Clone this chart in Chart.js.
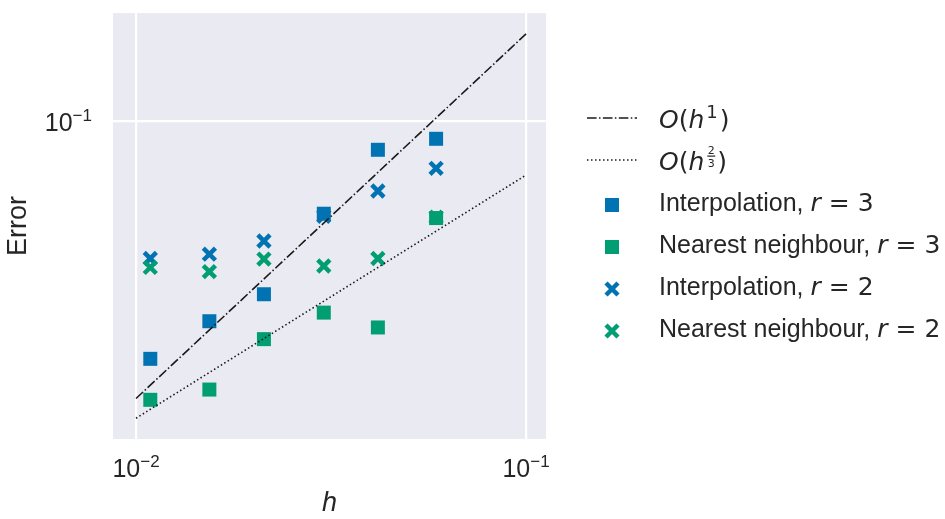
<!DOCTYPE html>
<html>
<head>
<meta charset="utf-8">
<script src="https://cdn.jsdelivr.net/npm/chart.js@4.4.1/dist/chart.umd.min.js"></script>
<style>
  html, body { margin: 0; padding: 0; background: #ffffff; }
  #wrap { width: 945px; height: 519px; }
</style>
</head>
<body>
<div id="wrap"><canvas id="c" width="945" height="519"></canvas></div>
<script>
// ---- data ----
const hValues   = [0.01088, 0.01542, 0.02128, 0.0303, 0.0417, 0.0588];
const interpR3  = [0.02228, 0.02825, 0.0335, 0.0557, 0.0834, 0.0894];
const nearestR3 = [0.01720, 0.01835, 0.02523, 0.02983, 0.02716, 0.0542];
const interpR2  = [0.04199, 0.04315, 0.0469, 0.0548, 0.0643, 0.0742];
const nearestR2 = [0.03969, 0.03864, 0.04182, 0.04003, 0.04199, 0.0545];
const refH      = [0.01, 0.1];
const refOrder1 = [0.01734, 0.1734];
const refOrder23 = [0.01531, 0.0711];
const xTicks = [0.01, 0.1];
const yTicks = [0.1];
const xTickExp = ['\u22122', '\u22121'];
const yTickExp = ['\u22121'];
const legendLabels = ['Interpolation, ', 'Nearest neighbour, ', 'Interpolation, ', 'Nearest neighbour, '];
const legendR = ['3', '3', '2', '2'];

const BLUE = '#0173B2';
const GREEN = '#029E73';
const INK = '#262626';
const LINE = '#1a1a1a';
const SANS = '"Liberation Sans", Arial, sans-serif';
const MATH = '"DejaVu Sans", sans-serif';

const pts = (xs, ys) => xs.map((x, i) => ({ x: x, y: ys[i] }));

function drawRuns(ctx, x, y, runs, align) {
  let total = 0;
  runs.forEach(r => { ctx.font = r.font; r.w = ctx.measureText(r.text).width; total += r.w + (r.gap || 0); });
  let cx = align === 'center' ? x - total / 2 : (align === 'right' ? x - total : x);
  runs.forEach(r => {
    ctx.font = r.font;
    ctx.fillText(r.text, cx, y - (r.dy || 0));
    cx += r.w + (r.gap || 0);
  });
  return cx;
}

const decor = {
  id: 'decor',
  beforeDraw(chart) {
    const { ctx, chartArea: a } = chart;
    ctx.save();
    ctx.fillStyle = '#EAEAF2';
    ctx.fillRect(a.left, a.top, a.right - a.left, a.bottom - a.top);
    ctx.restore();
  },
  afterDraw(chart) {
    const { ctx, chartArea: a } = chart;
    const xs = chart.scales.x, ys = chart.scales.y;
    ctx.save();
    ctx.fillStyle = INK;
    ctx.textBaseline = 'alphabetic';
    // x tick labels
    xTicks.forEach((v, i) => {
      const px = xs.getPixelForValue(v);
      drawRuns(ctx, px, a.bottom + 38, [
        { text: '10', font: '25px ' + SANS },
        { text: xTickExp[i], font: '17px ' + SANS, dy: 10 }
      ], 'center');
    });
    // y tick labels
    yTicks.forEach((v, i) => {
      const py = ys.getPixelForValue(v);
      drawRuns(ctx, a.left - 21, py + 10, [
        { text: '10', font: '25px ' + SANS },
        { text: yTickExp[i], font: '17px ' + SANS, dy: 10 }
      ], 'right');
    });
    // axis titles
    ctx.font = 'italic 27px ' + SANS;
    ctx.textAlign = 'center';
    ctx.fillText('h', (a.left + a.right) / 2, 511);
    ctx.save();
    ctx.translate(26, (a.top + a.bottom) / 2);
    ctx.rotate(-Math.PI / 2);
    ctx.font = '27px ' + SANS;
    ctx.fillText('Error', 0, 0);
    ctx.restore();
    ctx.textAlign = 'left';

    // legend
    const lx0 = 587, lx1 = 637, mx = 612, tx = 659;
    const rows = [118, 160, 202, 244, 286, 328];
    ctx.strokeStyle = LINE;
    ctx.lineWidth = 1.6;
    ctx.setLineDash([9.6, 2.4, 1.5, 2.4]);
    ctx.beginPath(); ctx.moveTo(lx0, rows[0]); ctx.lineTo(lx1, rows[0]); ctx.stroke();
    ctx.setLineDash([1.5, 2.5]);
    ctx.beginPath(); ctx.moveTo(lx0, rows[1]); ctx.lineTo(lx1, rows[1]); ctx.stroke();
    ctx.setLineDash([]);

    const mi = 'italic 25px ' + MATH, mu = '25px ' + MATH;
    drawRuns(ctx, tx, rows[0] + 10, [
      { text: 'O', font: mi }, { text: '(', font: mu }, { text: 'h', font: mi, gap: 2 },
      { text: '1', font: '18px ' + MATH, dy: 10, gap: 2 }, { text: ')', font: mu }
    ], 'left');
    const endH = drawRuns(ctx, tx, rows[1] + 10, [
      { text: 'O', font: mi }, { text: '(', font: mu }, { text: 'h', font: mi, gap: 12 }
    ], 'left');
    // fraction 2/3 in superscript
    ctx.font = '11px ' + MATH;
    ctx.textAlign = 'center';
    const fx = endH - 5;
    ctx.fillText('2', fx, rows[1] - 6);
    ctx.fillText('3', fx, rows[1] + 7);
    ctx.fillRect(fx - 4, rows[1] - 4.5, 8, 1.2);
    ctx.textAlign = 'left';
    ctx.font = mu;
    ctx.fillText(')', endH + 1, rows[1] + 10);

    const colors = [BLUE, GREEN, BLUE, GREEN];
    for (let i = 0; i < 4; i++) {
      const y = rows[i + 2];
      const my = y + 3;
      ctx.fillStyle = colors[i];
      ctx.strokeStyle = colors[i];
      if (i < 2) {
        ctx.fillRect(mx - 7, my - 7, 14, 14);
      } else {
        ctx.lineWidth = 4.5;
        ctx.beginPath();
        ctx.moveTo(mx - 6, my - 6); ctx.lineTo(mx + 6, my + 6);
        ctx.moveTo(mx + 6, my - 6); ctx.lineTo(mx - 6, my + 6);
        ctx.stroke();
      }
      ctx.fillStyle = INK;
      drawRuns(ctx, tx, y + 9, [
        { text: legendLabels[i], font: '25px ' + SANS },
        { text: 'r', font: mi, gap: 8 },
        { text: '=', font: mu, gap: 8 },
        { text: legendR[i], font: mu }
      ], 'left');
    }
    ctx.restore();
  }
};

const ctx = document.getElementById('c').getContext('2d');
new Chart(ctx, {
  type: 'scatter',
  data: {
    datasets: [
      { label: 'O(h^1)', type: 'line', data: pts(refH, refOrder1), borderColor: LINE, borderWidth: 1.6,
        borderDash: [9.6, 2.4, 1.5, 2.4], pointRadius: 0, fill: false, showLine: true },
      { label: 'O(h^2/3)', type: 'line', data: pts(refH, refOrder23), borderColor: LINE, borderWidth: 1.6,
        borderDash: [1.5, 2.5], pointRadius: 0, fill: false, showLine: true },
      { label: 'Interpolation, r = 3', data: pts(hValues, interpR3), pointStyle: 'rect', pointRadius: 9.9,
        backgroundColor: BLUE, borderColor: BLUE, borderWidth: 0 },
      { label: 'Nearest neighbour, r = 3', data: pts(hValues, nearestR3), pointStyle: 'rect', pointRadius: 9.9,
        backgroundColor: GREEN, borderColor: GREEN, borderWidth: 0 },
      { label: 'Nearest neighbour, r = 2', data: pts(hValues, nearestR2), pointStyle: 'crossRot', pointRadius: 8.6,
        backgroundColor: GREEN, borderColor: GREEN, borderWidth: 4.5 },
      { label: 'Interpolation, r = 2', data: pts(hValues, interpR2), pointStyle: 'crossRot', pointRadius: 8.6,
        backgroundColor: BLUE, borderColor: BLUE, borderWidth: 4.5 }
    ]
  },
  options: {
    responsive: false,
    animation: false,
    devicePixelRatio: 1,
    layout: { padding: { left: 113, right: 399, top: 9, bottom: 80 } },
    plugins: { legend: { display: false }, tooltip: { enabled: false } },
    scales: {
      x: {
        type: 'logarithmic', min: 0.00873, max: 0.1125,
        afterBuildTicks: s => { s.ticks = xTicks.map(v => ({ value: v })); },
        ticks: { display: false },
        grid: { color: '#ffffff', lineWidth: 2.2, drawTicks: false },
        border: { display: false }
      },
      y: {
        type: 'logarithmic', min: 0.01343, max: 0.1977,
        afterBuildTicks: s => { s.ticks = yTicks.map(v => ({ value: v })); },
        ticks: { display: false },
        grid: { color: '#ffffff', lineWidth: 2.2, drawTicks: false },
        border: { display: false }
      }
    }
  },
  plugins: [decor]
});
</script>
</body>
</html>
